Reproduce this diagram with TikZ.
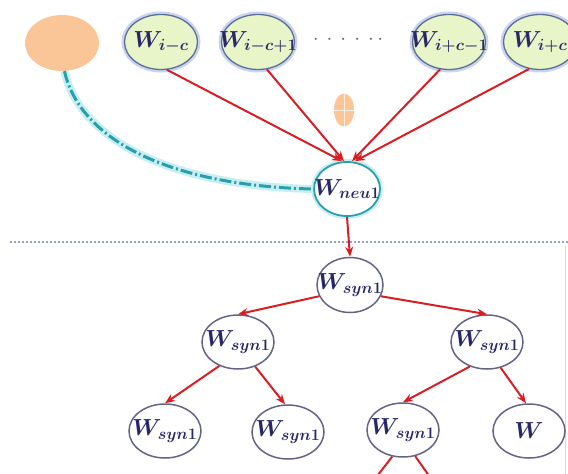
\documentclass[tikz,border=0pt]{standalone}
\usepackage{graphicx}
\usetikzlibrary{arrows.meta,shapes.geometric}
\definecolor{wtext}{RGB}{40,40,105}
\definecolor{redline}{RGB}{215,30,35}
\definecolor{greenfill}{RGB}{232,245,200}
\definecolor{topborder}{RGB}{95,110,150}
\definecolor{topglow}{RGB}{200,212,240}
\definecolor{tealc}{RGB}{40,160,172}
\definecolor{tealglow}{RGB}{200,238,242}
\definecolor{treeborder}{RGB}{100,100,135}
\definecolor{orangefill}{RGB}{250,198,152}
\definecolor{dotline}{RGB}{150,165,185}
\newcommand{\wlab}[1]{\makebox[0pt][c]{\scalebox{1.12}{$#1$}}}
\tikzset{
  x=1pt, y=-1pt,
  wnode/.style={ellipse, inner sep=0pt, text=wtext, font=\huge\boldmath},
  topw/.style={wnode, minimum width=73pt, minimum height=55pt, fill=greenfill,
    draw=topborder, line width=1.3pt, preaction={draw=topglow, line width=6pt}},
  neunode/.style={wnode, minimum width=66pt, minimum height=54pt, fill=white,
    draw=tealc, line width=1.8pt, preaction={draw=tealglow, line width=6pt}},
  treew/.style={wnode, minimum width=72pt, minimum height=54pt, fill=white,
    draw=treeborder, line width=1.5pt},
  orangeblob/.style={ellipse, inner sep=0pt, fill=orangefill},
  redarrow/.style={draw=redline, line width=2pt, -{Stealth[length=10pt,width=8pt]}},
  redline/.style={draw=redline, line width=2pt},
  tealcurve/.style={draw=tealc, line width=3pt, dash pattern=on 12pt off 3pt on 2pt off 3pt,
    preaction={draw=tealglow, line width=8pt, solid}},
}
\begin{document}
\begin{tikzpicture}
\useasboundingbox (0,0) rectangle (568,474);
% separators
\draw[dotline, line width=1.2pt, dash pattern=on 2pt off 2pt] (10,242) -- (568,242);
\draw[black!15, line width=0.8pt] (565,246) -- (565,474);
% top row
\node[orangeblob, minimum width=74pt, minimum height=56pt] (o1) at (62,43) {};
\node[topw] (a) at (161,42) {\wlab{W_{i-c}}};
\node[topw] (b) at (258,42) {\wlab{W_{i-c+1}}};
\node[text=black!60, font=\huge\bfseries] (dots) at (348,40) {$\cdot\,\cdot\,\cdot\,\cdot\,\cdot\,\cdot$};
\node[topw] (c) at (449,42) {\wlab{W_{i+c-1}}};
\node[topw] (d) at (540,42) {\wlab{W_{i+c}}};
% small orange blob
\node[orangeblob, minimum width=20pt, minimum height=33pt] (e) at (344,110) {};
\draw[white!70!orangefill, line width=0.6pt] (e.north) -- (e.south) (e.west) -- (e.east);
% neu node
\node[neunode] (neu) at (347,189) {\wlab{W_{neu1}}};
% tree
\node[treew, minimum width=66pt, minimum height=55pt] (r) at (350,285) {\wlab{W_{syn1}}};
\node[treew] (l) at (238,342) {\wlab{W_{syn1}}};
\node[treew] (rr) at (487,342) {\wlab{W_{syn1}}};
\node[treew] (ll) at (165,431) {\wlab{W_{syn1}}};
\node[treew] (lr) at (288,432) {\wlab{W_{syn1}}};
\node[treew] (rl) at (403,430) {\wlab{W_{syn1}}};
\node[treew] (rrr) at (529,431) {\wlab{W}};
\coordinate (out1) at (374,480);
\coordinate (out2) at (432,480);
% teal curve
\draw[tealcurve] (o1.-85) .. controls (80,140) and (170,186) .. (neu.west);
% red arrows into neu
\draw[redarrow] (a.-78) -- ([xshift=-5pt]neu.north);
\draw[redarrow] (b.-72) -- ([xshift=-3pt]neu.north);
\draw[redarrow] (c.-108) -- ([xshift=5pt]neu.north);
\draw[redarrow] (d.-112) -- ([xshift=8pt]neu.north);
% tree arrows
\draw[redarrow] (neu.south) -- (r.north);
\draw[redarrow] (r.200) -- (l.north);
\draw[redarrow] (r.-20) -- (rr.north);
\draw[redarrow] (l.-128) -- (ll.north);
\draw[redarrow] (l.-55) -- ([xshift=-3pt]lr.north);
\draw[redarrow] (rr.-125) -- (rl.north);
\draw[redarrow] (rr.-62) -- ([xshift=-3pt]rrr.north);
\draw[redline] (rl.-112) -- (out1);
\draw[redline] (rl.-65) -- (out2);
\end{tikzpicture}
\end{document}
